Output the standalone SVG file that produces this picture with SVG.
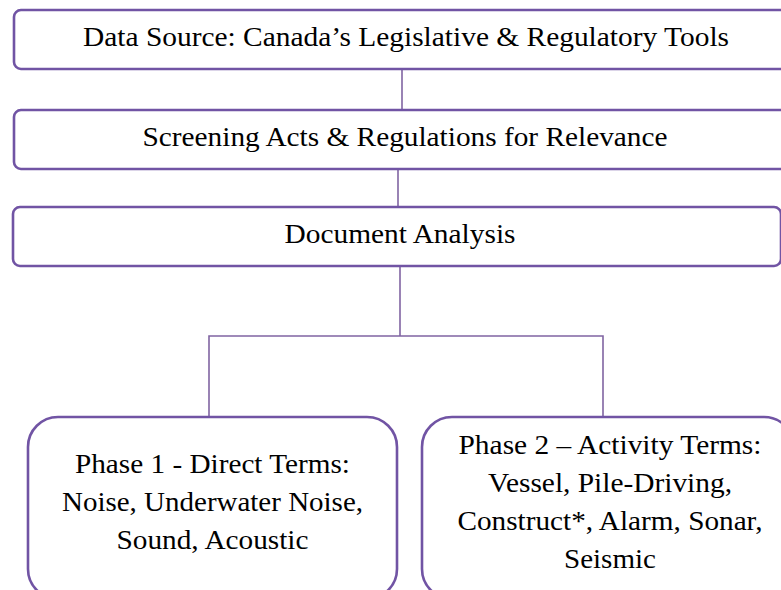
<svg xmlns="http://www.w3.org/2000/svg" width="781" height="590" viewBox="0 0 781 590">
  <style>
    .box { fill: #ffffff; stroke: #7154A4; stroke-width: 2.6; }
    .link { fill: none; stroke: #8064A2; stroke-width: 1.6; }
    text { font-family: "Liberation Serif", "DejaVu Serif", "Noto Serif", serif; font-size: 28px; fill: #000000; text-anchor: middle; }
  </style>
  <rect width="781" height="590" fill="#ffffff"/>

  <!-- connectors -->
  <g id="connectors">
    <line class="link" x1="402" y1="69" x2="402" y2="110"/>
    <line class="link" x1="398" y1="169" x2="398" y2="207"/>
    <line class="link" x1="400" y1="266" x2="400" y2="336"/>
    <polyline class="link" points="209,417 209,336 603,336 603,417"/>
  </g>

  <g id="data-source">
    <rect class="box" x="14" y="10" width="790" height="59" rx="7"/>
    <text x="406" y="46" textLength="646" lengthAdjust="spacingAndGlyphs">Data Source: Canada’s Legislative &amp; Regulatory Tools</text>
  </g>

  <g id="screening">
    <rect class="box" x="14" y="110" width="790" height="59" rx="7"/>
    <text x="405" y="146" textLength="525" lengthAdjust="spacingAndGlyphs">Screening Acts &amp; Regulations for Relevance</text>
  </g>

  <g id="document-analysis">
    <rect class="box" x="13" y="207" width="768" height="59" rx="7"/>
    <text x="400" y="243" textLength="231" lengthAdjust="spacingAndGlyphs">Document Analysis</text>
  </g>

  <g id="phase-1">
    <rect class="box" x="28" y="417" width="369" height="182" rx="30"/>
    <text x="212.5" y="473" textLength="275" lengthAdjust="spacingAndGlyphs">Phase 1 - Direct Terms:</text>
    <text x="212.5" y="511" textLength="301" lengthAdjust="spacingAndGlyphs">Noise, Underwater Noise,</text>
    <text x="212.5" y="549" textLength="192" lengthAdjust="spacingAndGlyphs">Sound, Acoustic</text>
  </g>

  <g id="phase-2">
    <rect class="box" x="422" y="417" width="372" height="182" rx="30"/>
    <text x="610" y="454" textLength="303" lengthAdjust="spacingAndGlyphs">Phase 2 – Activity Terms:</text>
    <text x="610" y="492" textLength="244" lengthAdjust="spacingAndGlyphs">Vessel, Pile-Driving,</text>
    <text x="610" y="530" textLength="305" lengthAdjust="spacingAndGlyphs">Construct*, Alarm, Sonar,</text>
    <text x="610" y="568" textLength="92" lengthAdjust="spacingAndGlyphs">Seismic</text>
  </g>
</svg>
